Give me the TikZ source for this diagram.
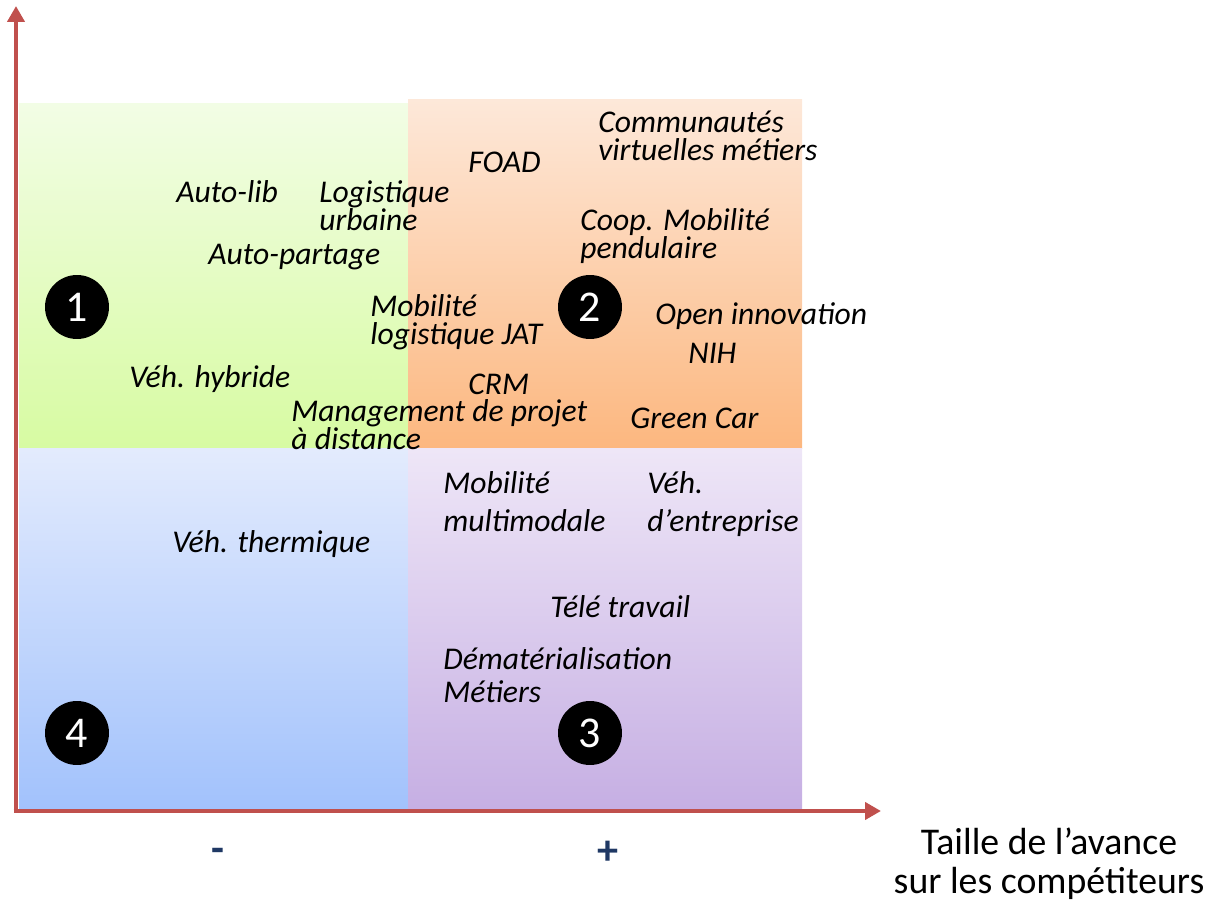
\documentclass[tikz,border=0pt]{standalone}
\usepackage{fontspec}
\setmainfont{Carlito}
\usepackage{xcolor}
\usepackage{tikz}
\usetikzlibrary{positioning,arrows.meta}

\definecolor{axisred}{HTML}{C0504D}
\definecolor{signblue}{HTML}{1F3864}

\begin{document}
\begin{tikzpicture}[
    x=0.02cm, y=-0.02cm,
    item/.style={anchor=base west, inner sep=0pt, align=left, font=\fontsize{18}{16.4}\selectfont\itshape},
    wide/.style={font=\fontsize{18}{22.1}\selectfont\itshape},
    num/.style={circle, fill=black, text=white, minimum size=1.28cm, inner sep=0pt, font=\fontsize{25}{25}\selectfont},
    sign/.style={text=signblue, inner sep=0pt, font=\fontsize{24}{24}\selectfont\bfseries},
    axis/.style={draw=axisred, line width=2.8pt, -{Triangle[length=0.32cm, width=0.34cm]}}
]
    \useasboundingbox (0,0) rectangle (1215,902);
    % quadrants
    \shade[top color={rgb,255:red,242;green,253;blue,229}, bottom color={rgb,255:red,215;green,251;blue,162}] (19,104) rectangle (408,449);
    \shade[top color={rgb,255:red,253;green,232;blue,217}, bottom color={rgb,255:red,252;green,183;blue,127}] (408,100) rectangle (802,449);
    \shade[top color={rgb,255:red,227;green,235;blue,253}, bottom color={rgb,255:red,162;green,194;blue,252}] (19,449) rectangle (408,808);
    \shade[top color={rgb,255:red,238;green,230;blue,247}, bottom color={rgb,255:red,198;green,175;blue,227}] (408,449) rectangle (802,808);

    % axes
    \coordinate (origin) at (16,811);
    \coordinate (ytip) at (16,6);
    \coordinate (xtip) at (881,811);
    \draw[axis] ([yshift=0.05cm]origin) -- (ytip);
    \draw[axis] ([xshift=-0.05cm]origin) -- (xtip);

    % quadrant numbers
    \node [num] (n1) at (77,307) {1};
    \node [num] (n2) at (590,307) {2};
    \node [num] (n3) at (590,733) {3};
    \node [num] (n4) at (77,733) {4};

    % quadrant 1 (two-line texts sit on their last baseline)
    \node [item] (autolib) at (176,203) {Auto-lib};
    \node [item] (logurb) at (319,231) {Logistique\\urbaine};
    \node [item] (autopart) at (208,265) {Auto-partage};
    \node [item] (mobjat) at (370,345) {Mobilité\\logistique JAT};
    \node [item] (hybride) at (129,388) {Véh. hybride};
    \node [item] (mgmt) at (291,450) {Management de projet\\à distance};

    % quadrant 2
    \node [item] (foad) at (468,173) {FOAD};
    \node [item] (commu) at (598,161) {Communautés\\virtuelles métiers};
    \node [item] (coop) at (580,259) {Coop. Mobilité\\pendulaire};
    \node [item] (openinno) at (655,325) {Open innovation};
    \node [item] (nih) at (688,364) {NIH};
    \node [item] (crm) at (468,395) {CRM};
    \node [item] (green) at (630,429) {Green Car};

    % quadrants 3 and 4
    \node [item] (thermique) at (172,553) {Véh. thermique};
    \node [item, wide] (multimod) at (443,532) {Mobilité\\multimodale};
    \node [item, wide] (entreprise) at (647,532) {Véh.\\d’entreprise};
    \node [item] (teletravail) at (550,617) {Télé travail};
    \node [item, font=\fontsize{18}{18.7}\selectfont\itshape] (demat) at (443,702) {Dématérialisation\\Métiers};

    % axis labels
    \node [sign] (minus) at (218,855) {-};
    \node [sign] (plus) at (608,853) {+};
    \node [anchor=base, inner sep=0pt, align=center, font=\fontsize{21.5}{22.1}\selectfont] (xlabel) at (1049,893) {Taille de l’avance\\sur les compétiteurs};
\end{tikzpicture}
\end{document}
